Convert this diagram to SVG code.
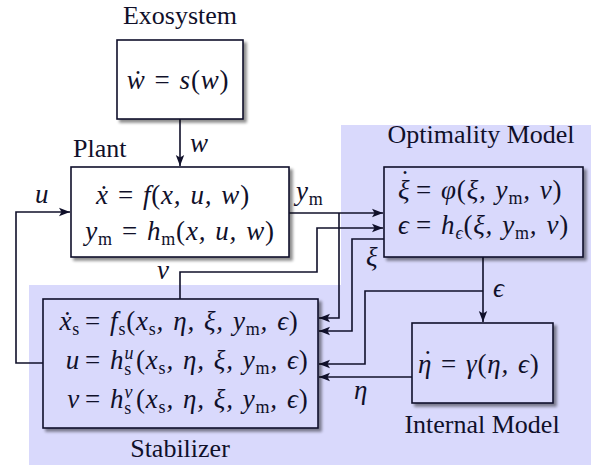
<svg xmlns="http://www.w3.org/2000/svg" width="595" height="465" viewBox="0 0 595 465">
<defs>
<style>
.lbl{font-family:"Liberation Serif","Times New Roman",serif;font-size:26px;fill:#10102a}
.m{font-family:"Liberation Serif","Times New Roman",serif;font-size:27px;font-style:italic;fill:#10102a;letter-spacing:0.8px;word-spacing:1.5px}
.d{font-style:normal}
.r{font-style:normal}
.sb{font-size:18px;font-style:normal}
.ss{font-size:18px}
.box{stroke:#10102a;stroke-width:1.6}
.w{fill:#ffffff}
.b{fill:#d9d9fc}
.c{fill:none;stroke:#10102a;stroke-width:1.6}
</style>
<filter id="sh" x="-10%" y="-10%" width="125%" height="125%">
<feGaussianBlur in="SourceAlpha" stdDeviation="1.8"/>
<feOffset dx="3" dy="3" result="o"/>
<feComponentTransfer><feFuncA type="linear" slope="0.45"/></feComponentTransfer>
<feMerge><feMergeNode/><feMergeNode in="SourceGraphic"/></feMerge>
</filter>
<marker id="ar" markerUnits="userSpaceOnUse" markerWidth="12" markerHeight="10" refX="11" refY="5" orient="auto">
<path d="M0,0.8 L11,5 L0,9.2 L2.5,5 Z" fill="#10102a"/>
</marker>
</defs>
<rect width="595" height="465" fill="#ffffff"/>
<path d="M341,125 H591 V465 H29 V285 H341 Z" fill="#d9d9fc"/>

<g id="connectors">
<path class="c" d="M180,119 V166" marker-end="url(#ar)"/>
<path class="c" d="M43,363 H16 V212 H70" marker-end="url(#ar)"/>
<path class="c" d="M289,213 H383" marker-end="url(#ar)"/>
<path class="c" d="M339,213 V318 H319" marker-end="url(#ar)"/>
<path class="c" d="M180,299 V272 H317 V228 H383" marker-end="url(#ar)"/>
<path class="c" d="M384,239 H352 V331 H319" marker-end="url(#ar)"/>
<path class="c" d="M483,257 V322" marker-end="url(#ar)"/>
<path class="c" d="M483,291 H365 V364 H319" marker-end="url(#ar)"/>
<path class="c" d="M412,377 H319" marker-end="url(#ar)"/>
<text class="m" x="190" y="152">w</text>
<text class="m" x="35" y="203">u</text>
<text class="m" x="296" y="200">y<tspan class="sb" dy="5">m</tspan></text>
<text class="m" x="157" y="279">v</text>
<text class="m" x="366" y="266">ξ</text>
<text class="m" x="493" y="297">ϵ</text>
<text class="m" x="354" y="399">η</text>
</g>

<g id="exosystem">
<text class="lbl" x="180" y="24" text-anchor="middle">Exosystem</text>
<rect class="box w" x="117" y="40" width="126" height="79" filter="url(#sh)"/>
<text class="m" x="178" y="89" text-anchor="middle">ẇ <tspan class="r">=</tspan> s<tspan class="r">(</tspan>w<tspan class="r">)</tspan></text>
</g>

<g id="plant">
<text class="lbl" x="73" y="157">Plant</text>
<rect class="box w" x="71" y="167" width="218" height="90" filter="url(#sh)"/>
<text class="m" x="173" y="204" text-anchor="middle">ẋ <tspan class="r">=</tspan> f<tspan class="r">(</tspan>x, u, w<tspan class="r">)</tspan></text>
<text class="m" x="180" y="240" text-anchor="middle">y<tspan class="sb" dy="5">m</tspan><tspan dy="-5"> </tspan><tspan class="r">=</tspan> h<tspan class="sb" dy="5">m</tspan><tspan class="r" dy="-5">(</tspan>x, u, w<tspan class="r">)</tspan></text>
</g>

<g id="optimality">
<text class="lbl" x="481" y="143" text-anchor="middle">Optimality Model</text>
<rect class="box b" x="384" y="167" width="199" height="90" filter="url(#sh)"/>
<text class="m" x="398" y="199">ξ<tspan class="d" dx="-10" dy="-10">˙</tspan></text>
<text class="m" x="416" y="199"><tspan class="r">=</tspan> φ<tspan class="r">(</tspan>ξ, y<tspan class="sb" dy="5">m</tspan><tspan dy="-5">, v</tspan><tspan class="r">)</tspan></text>
<text class="m" x="398" y="234">ϵ</text>
<text class="m" x="416" y="234"><tspan class="r">=</tspan> h<tspan class="ss" dy="5">ϵ</tspan><tspan class="r" dy="-5">(</tspan>ξ, y<tspan class="sb" dy="5">m</tspan><tspan dy="-5">, v</tspan><tspan class="r">)</tspan></text>
</g>

<g id="stabilizer">
<rect class="box b" x="43" y="299" width="275" height="129" filter="url(#sh)"/>
<text class="m" x="80" y="330" text-anchor="end">ẋ<tspan class="sb" dy="5">s</tspan></text>
<text class="m" x="85" y="330"><tspan class="r">=</tspan> f<tspan class="sb" dy="5">s</tspan><tspan class="r" dy="-5">(</tspan>x<tspan class="sb" dy="5">s</tspan><tspan dy="-5">, η, ξ, y</tspan><tspan class="sb" dy="5">m</tspan><tspan dy="-5">, ϵ</tspan><tspan class="r">)</tspan></text>
<text class="m" x="80" y="369" text-anchor="end">u</text>
<text class="m" x="85" y="369"><tspan class="r">=</tspan> h<tspan class="ss" dy="-10">u</tspan><tspan class="sb" dx="-10" dy="16">s</tspan><tspan class="r" dx="4" dy="-6">(</tspan>x<tspan class="sb" dy="5">s</tspan><tspan dy="-5">, η, ξ, y</tspan><tspan class="sb" dy="5">m</tspan><tspan dy="-5">, ϵ</tspan><tspan class="r">)</tspan></text>
<text class="m" x="80" y="408" text-anchor="end">v</text>
<text class="m" x="85" y="408"><tspan class="r">=</tspan> h<tspan class="ss" dy="-10">v</tspan><tspan class="sb" dx="-9" dy="16">s</tspan><tspan class="r" dx="4" dy="-6">(</tspan>x<tspan class="sb" dy="5">s</tspan><tspan dy="-5">, η, ξ, y</tspan><tspan class="sb" dy="5">m</tspan><tspan dy="-5">, ϵ</tspan><tspan class="r">)</tspan></text>
<text class="lbl" x="180" y="457" text-anchor="middle">Stabilizer</text>
</g>

<g id="internal-model">
<rect class="box b" x="412" y="323" width="141" height="80" filter="url(#sh)"/>
<text class="m" x="418" y="373">η<tspan class="d" dx="-9" dy="-4">˙</tspan></text>
<text class="m" x="441" y="373"><tspan class="r">=</tspan> γ<tspan class="r">(</tspan>η, ϵ<tspan class="r">)</tspan></text>
<text class="lbl" x="482" y="433" text-anchor="middle">Internal Model</text>
</g>
</svg>
